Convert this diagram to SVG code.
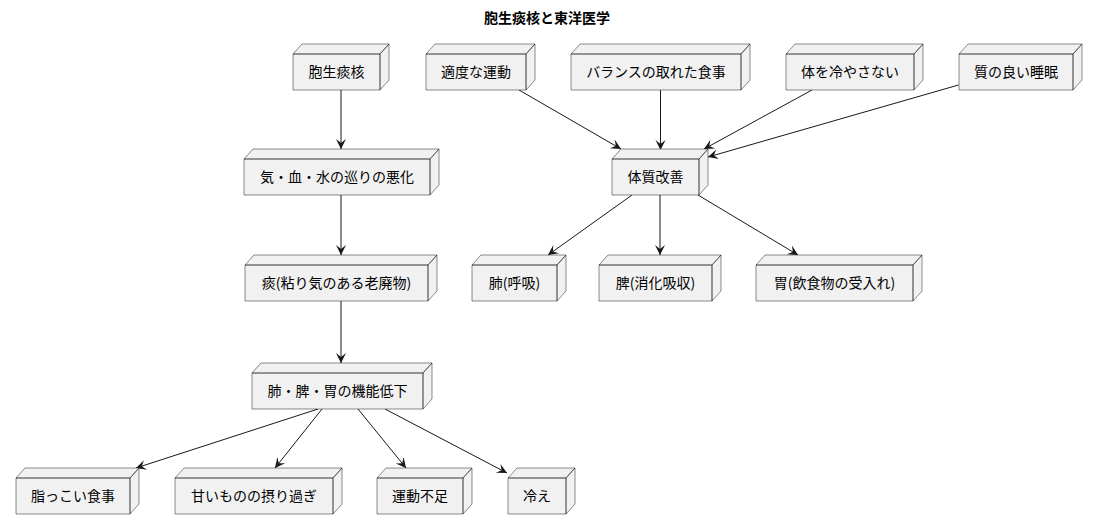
<svg xmlns="http://www.w3.org/2000/svg" width="1097" height="530" viewBox="0 0 1097 530">
<defs>
<style>
.nd path{fill:#F1F1F1;stroke:#181818;stroke-width:0.5}
.nd text{font-family:"Noto Sans CJK JP","Noto Sans",sans-serif;font-size:14px;fill:#000;text-anchor:middle}
.title{font-family:"Noto Sans CJK JP","Noto Sans",sans-serif;font-size:14px;font-weight:bold;fill:#000;text-anchor:middle}
#edges line{stroke:#181818;stroke-width:1;marker-end:url(#ah)}
</style>
<marker id="ah" markerWidth="13" markerHeight="12" viewBox="-12 -6 13 12" refX="0" refY="0" orient="auto" markerUnits="userSpaceOnUse"><path d="M0,0 L-10,-5 L-6,0 L-10,5 Z" fill="#181818"/></marker>
</defs>
<rect width="1097" height="530" fill="#FFFFFF"/>
<text class="title" x="547" y="23">胞生痰核と東洋医学</text>

<g id="edges">
<line x1="341" y1="90" x2="341" y2="149"/>
<line x1="341" y1="195" x2="341" y2="255"/>
<line x1="341" y1="301" x2="341" y2="363"/>
<line x1="318" y1="409" x2="136" y2="468"/>
<line x1="322" y1="409" x2="275" y2="468"/>
<line x1="358" y1="409" x2="406" y2="468"/>
<line x1="385" y1="409" x2="507" y2="473"/>
<line x1="519" y1="90" x2="621" y2="149"/>
<line x1="660.5" y1="90" x2="660.5" y2="150"/>
<line x1="812" y1="90" x2="704" y2="149"/>
<line x1="958.5" y1="85" x2="708" y2="157"/>
<line x1="632" y1="195" x2="548" y2="255"/>
<line x1="660" y1="195" x2="660" y2="255"/>
<line x1="698" y1="195" x2="798" y2="255"/>
</g>

<g id="n1" class="nd"><path d="M293,54 H380 V90 H293 Z M293,54 L302,44 H389 L380,54 Z M380,54 L389,44 V80 L380,90 Z"/><text x="336.5" y="77">胞生痰核</text></g>
<g id="n2" class="nd"><path d="M244,159 H430 V195 H244 Z M244,159 L253,149 H439 L430,159 Z M430,159 L439,149 V185 L430,195 Z"/><text x="337" y="182">気・血・水の巡りの悪化</text></g>
<g id="n3" class="nd"><path d="M245,265 H428 V301 H245 Z M245,265 L254,255 H437 L428,265 Z M428,265 L437,255 V291 L428,301 Z"/><text x="336.5" y="288">痰(粘り気のある老廃物)</text></g>
<g id="n4" class="nd"><path d="M252,373 H423 V409 H252 Z M252,373 L261,363 H432 L423,373 Z M423,373 L432,363 V399 L423,409 Z"/><text x="337.5" y="396">肺・脾・胃の機能低下</text></g>
<g id="n5" class="nd"><path d="M16,478 H130 V514 H16 Z M16,478 L25,468 H139 L130,478 Z M130,478 L139,468 V504 L130,514 Z"/><text x="73" y="501">脂っこい食事</text></g>
<g id="n6" class="nd"><path d="M175,478 H333 V514 H175 Z M175,478 L184,468 H342 L333,478 Z M333,478 L342,468 V504 L333,514 Z"/><text x="254" y="501">甘いものの摂り過ぎ</text></g>
<g id="n7" class="nd"><path d="M377,478 H463 V514 H377 Z M377,478 L386,468 H472 L463,478 Z M463,478 L472,468 V504 L463,514 Z"/><text x="420" y="501">運動不足</text></g>
<g id="n8" class="nd"><path d="M508,478 H566 V514 H508 Z M508,478 L517,468 H575 L566,478 Z M566,478 L575,468 V504 L566,514 Z"/><text x="537" y="501">冷え</text></g>
<g id="n9" class="nd"><path d="M426,54 H526 V90 H426 Z M426,54 L435,44 H535 L526,54 Z M526,54 L535,44 V80 L526,90 Z"/><text x="476" y="77">適度な運動</text></g>
<g id="n10" class="nd"><path d="M571,54 H741 V90 H571 Z M571,54 L580,44 H750 L741,54 Z M741,54 L750,44 V80 L741,90 Z"/><text x="656" y="77">バランスの取れた食事</text></g>
<g id="n11" class="nd"><path d="M786,54 H914 V90 H786 Z M786,54 L795,44 H923 L914,54 Z M914,54 L923,44 V80 L914,90 Z"/><text x="850" y="77">体を冷やさない</text></g>
<g id="n12" class="nd"><path d="M959,54 H1073 V90 H959 Z M959,54 L968,44 H1082 L1073,54 Z M1073,54 L1082,44 V80 L1073,90 Z"/><text x="1016" y="77">質の良い睡眠</text></g>
<g id="n13" class="nd"><path d="M612,159 H699 V195 H612 Z M612,159 L621,149 H708 L699,159 Z M699,159 L708,149 V185 L699,195 Z"/><text x="655.5" y="182">体質改善</text></g>
<g id="n14" class="nd"><path d="M472,265 H557 V301 H472 Z M472,265 L481,255 H566 L557,265 Z M557,265 L566,255 V291 L557,301 Z"/><text x="514.5" y="288">肺(呼吸)</text></g>
<g id="n15" class="nd"><path d="M599,265 H712 V301 H599 Z M599,265 L608,255 H721 L712,265 Z M712,265 L721,255 V291 L712,301 Z"/><text x="655.5" y="288">脾(消化吸収)</text></g>
<g id="n16" class="nd"><path d="M756,265 H913 V301 H756 Z M756,265 L765,255 H922 L913,265 Z M913,265 L922,255 V291 L913,301 Z"/><text x="834.5" y="288">胃(飲食物の受入れ)</text></g>
</svg>
